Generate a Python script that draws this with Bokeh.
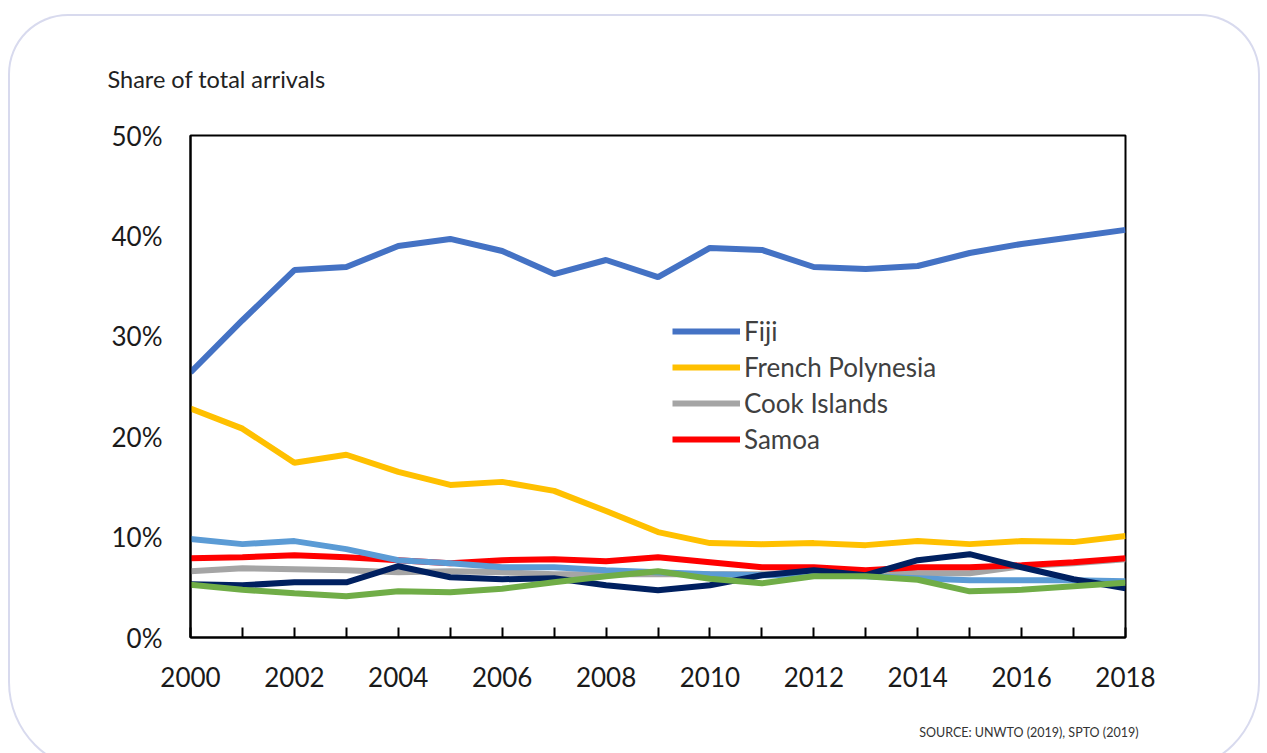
from bokeh.plotting import figure
from bokeh.models import Range1d, FixedTicker, Legend, LegendItem, Title
from bokeh.embed import file_html
from bokeh.resources import INLINE

years = list(range(2000, 2019))
fiji = [26.4, 31.6, 36.6, 36.9, 39.0, 39.7, 38.5, 36.2, 37.6, 35.9, 38.8, 38.6, 36.9, 36.7, 37.0, 38.3, 39.2, 39.9, 40.6]
french_polynesia = [22.8, 20.8, 17.4, 18.2, 16.5, 15.2, 15.5, 14.6, 12.6, 10.5, 9.4, 9.3, 9.4, 9.2, 9.6, 9.3, 9.6, 9.5, 10.1]
cook_islands = [6.6, 6.9, 6.8, 6.7, 6.5, 6.6, 6.5, 6.3, 6.3, 6.3, 6.3, 6.3, 6.5, 6.6, 6.4, 6.4, 7.1, 7.4, 7.8]
samoa = [7.9, 8.0, 8.2, 8.0, 7.7, 7.4, 7.7, 7.8, 7.6, 8.0, 7.5, 7.0, 7.0, 6.7, 7.0, 7.0, 7.2, 7.5, 7.9]
other_light_blue = [9.8, 9.3, 9.6, 8.8, 7.7, 7.4, 7.0, 7.0, 6.7, 6.5, 6.3, 6.2, 6.2, 6.1, 5.9, 5.7, 5.7, 5.7, 5.6]
other_navy = [5.3, 5.2, 5.5, 5.5, 7.1, 6.0, 5.8, 5.9, 5.2, 4.7, 5.2, 6.2, 6.7, 6.2, 7.7, 8.3, 7.0, 5.8, 4.9]
other_green = [5.25, 4.75, 4.4, 4.1, 4.6, 4.5, 4.85, 5.5, 6.1, 6.6, 5.85, 5.4, 6.1, 6.1, 5.75, 4.6, 4.75, 5.1, 5.45]
y_ticks = [0, 10, 20, 30, 40, 50]

W, H = 1252, 758
p = figure(width=W, height=H, output_backend="svg", toolbar_location=None,
           x_range=Range1d(2000, 2018), y_range=Range1d(0, 50),
           min_border_left=182, min_border_right=W - 1117, min_border_top=121, min_border_bottom=H - 623)
p.styles = {"margin-left": "8px", "margin-top": "14px", "border-radius": "60px 60px 90px 90px",
            "box-shadow": "inset 0 0 0 2px #d8daee"}
p.background_fill_color = "white"
p.border_fill_color = None
p.outline_line_color = "black"
p.outline_line_width = 2
p.xgrid.visible = False
p.ygrid.visible = False

# title and source as side-panel titles
p.title.text = "Share of total arrivals"
p.title.align = "left"
p.title.offset = -83
p.title.standoff = 85
p.title.text_font = "Lato"
p.title.text_font_size = "23.5px"
p.title.text_font_style = "normal"
p.title.text_color = "#222222"

source = Title(text="SOURCE: UNWTO (2019), SPTO (2019)", align="right", offset=-13, standoff=66,
               text_font="Lato", text_font_size="12.5px", text_font_style="normal", text_color="#333333")
p.add_layout(source, "below")

line_w = 6
rg = p.line(years, cook_islands, line_color="#A5A5A5", line_width=line_w)
rr = p.line(years, samoa, line_color="#FF0000", line_width=line_w)
p.line(years, other_light_blue, line_color="#5B9BD5", line_width=line_w)
p.line(years, other_navy, line_color="#002060", line_width=line_w)
p.line(years, other_green, line_color="#70AD47", line_width=line_w)
rfp = p.line(years, french_polynesia, line_color="#FFC000", line_width=line_w)
rf = p.line(years, fiji, line_color="#4472C4", line_width=line_w)

legend = Legend(items=[LegendItem(label="Fiji", renderers=[rf]),
                       LegendItem(label="French Polynesia", renderers=[rfp]),
                       LegendItem(label="Cook Islands", renderers=[rg]),
                       LegendItem(label="Samoa", renderers=[rr])],
                location=(482, 182), glyph_width=68, glyph_height=30, spacing=4,
                label_standoff=4, padding=0, margin=0, border_line_alpha=0,
                background_fill_alpha=0, label_text_font="Lato", label_text_font_size="26px",
                label_text_color="#404040")
p.add_layout(legend, "center")

for ax in (p.xaxis, p.yaxis):
    ax.minor_tick_line_color = None
    ax.axis_line_color = "black"
    ax.axis_line_width = 2
    ax.major_label_text_font = "Lato"
    ax.major_label_text_font_size = "26px"
    ax.major_label_text_color = "#1a1a1a"

p.xaxis.ticker = FixedTicker(ticks=years)
p.xaxis.major_label_overrides = {y: (str(y) if y % 2 == 0 else "") for y in years}
p.xaxis.major_tick_in = 10
p.xaxis.major_tick_out = 0
p.xaxis.major_tick_line_color = "black"
p.xaxis.major_tick_line_width = 2
p.xaxis.major_label_standoff = 29

p.yaxis.ticker = FixedTicker(ticks=y_ticks)
p.yaxis.major_label_overrides = {t: f"{t}%" for t in y_ticks}
p.yaxis.major_tick_in = 0
p.yaxis.major_tick_out = 0
p.yaxis.major_label_standoff = 28

open("out.html", "w").write(file_html(p, INLINE))
